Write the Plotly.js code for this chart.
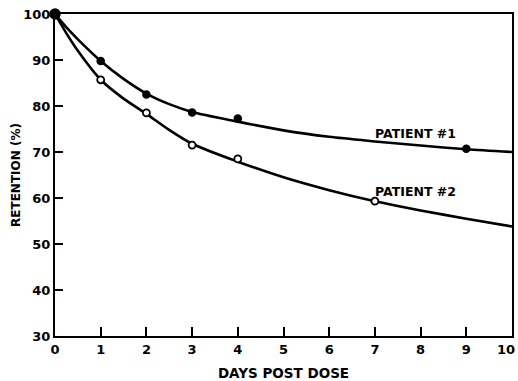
<!DOCTYPE html>
<html>
<head>
<meta charset="utf-8">
<script src="https://cdn.plot.ly/plotly-3.0.1.min.js"></script>
<style>html,body{margin:0;padding:0;background:#fff;}#chart{width:518px;height:381px;}</style>
</head>
<body>
<div id="chart"></div>
<script>
// Measured points
const p1Days = [0, 1, 2, 3, 4, 9];
const p1Retention = [100, 89.8, 82.5, 78.6, 77.3, 70.7];
const p2Days = [0, 1, 2, 3, 4, 7];
const p2Retention = [100, 85.7, 78.5, 71.5, 68.5, 59.3];
// Fitted curves
const curveDays = [0, 0.25, 0.5, 1, 1.5, 2, 2.5, 3, 4, 5, 6, 7, 8, 9, 10];
const p1Curve = [100, 97.1, 94.5, 89.8, 85.9, 82.7, 80.4, 78.7, 76.6, 74.7, 73.3, 72.3, 71.4, 70.6, 70.0];
const p2Curve = [100, 95.8, 92.0, 85.7, 81.6, 78.3, 74.8, 71.8, 67.9, 64.5, 61.7, 59.3, 57.3, 55.5, 53.8];
const xTicks = [0, 1, 2, 3, 4, 5, 6, 7, 8, 9, 10];
const yTicks = [30, 40, 50, 60, 70, 80, 90, 100];
const seriesLabels = ['PATIENT #1', 'PATIENT #2'];
const xTitle = 'DAYS POST DOSE';
const yTitle = 'RETENTION (%)';

const F = 'DejaVu Sans, sans-serif';
const lastTick = xTicks[xTicks.length - 1];
const traces = [
  {x: curveDays, y: p2Curve, mode: 'lines', line: {color: '#000', width: 2.6, shape: 'spline', smoothing: 0.8}, hoverinfo: 'skip'},
  {x: curveDays, y: p1Curve, mode: 'lines', line: {color: '#000', width: 2.6, shape: 'spline', smoothing: 0.8}, hoverinfo: 'skip'},
  {x: p2Days, y: p2Retention, mode: 'markers', cliponaxis: false,
   marker: {symbol: 'circle', size: 7, color: '#fff', line: {color: '#000', width: 1.8}}},
  {x: p1Days, y: p1Retention, mode: 'markers', cliponaxis: false,
   marker: {symbol: 'circle', size: [10, 7, 7, 7, 7, 7], color: '#000', opacity: 1, line: {color: '#000', width: 1.5}}}
];
const layout = {
  width: 518, height: 381,
  margin: {l: 55, r: 6, t: 14, b: 45},
  paper_bgcolor: '#fff', plot_bgcolor: '#fff',
  showlegend: false,
  font: {family: F, color: '#000', size: 12, weight: 'bold'},
  xaxis: {
    range: [0, 10], tickvals: xTicks,
    ticktext: xTicks.map(v => v === lastTick ? '' : String(v)),
    ticks: 'inside', ticklen: 9, tickwidth: 2, tickcolor: '#000',
    showline: true, linecolor: '#000', linewidth: 2, mirror: true,
    showgrid: false, zeroline: false,
    tickfont: {family: F, size: 13, weight: 'bold'},
    title: {text: xTitle, font: {family: F, size: 13.5, weight: 'bold'}, standoff: 13}
  },
  yaxis: {
    range: [30, 100], tickvals: yTicks, ticktext: yTicks.map(String),
    ticks: 'inside', ticklen: 8, tickwidth: 2, tickcolor: '#000',
    showline: true, linecolor: '#000', linewidth: 2, mirror: true,
    showgrid: false, zeroline: false,
    tickfont: {family: F, size: 13, weight: 'bold'},
    ticklabelstandoff: 0,
    title: {text: yTitle, font: {family: F, size: 12, weight: 'bold'}, standoff: 0}
  },
  annotations: [
    {x: 6.96, y: 74.1, xref: 'x', yref: 'y', text: seriesLabels[0], showarrow: false,
     xanchor: 'left', yanchor: 'middle', font: {family: F, size: 12.5, weight: 'bold', color: '#000'}},
    {x: 6.96, y: 61.5, xref: 'x', yref: 'y', text: seriesLabels[1], showarrow: false,
     xanchor: 'left', yanchor: 'middle', font: {family: F, size: 12.5, weight: 'bold', color: '#000'}},
    {x: 1, y: 0, xref: 'paper', yref: 'paper', xanchor: 'right', yanchor: 'top', yshift: -4, xshift: 5,
     text: String(lastTick), showarrow: false, font: {family: F, size: 13, weight: 'bold', color: '#000'}}
  ]
};
Plotly.newPlot('chart', traces, layout, {displayModeBar: false, staticPlot: true});
</script>
</body>
</html>
